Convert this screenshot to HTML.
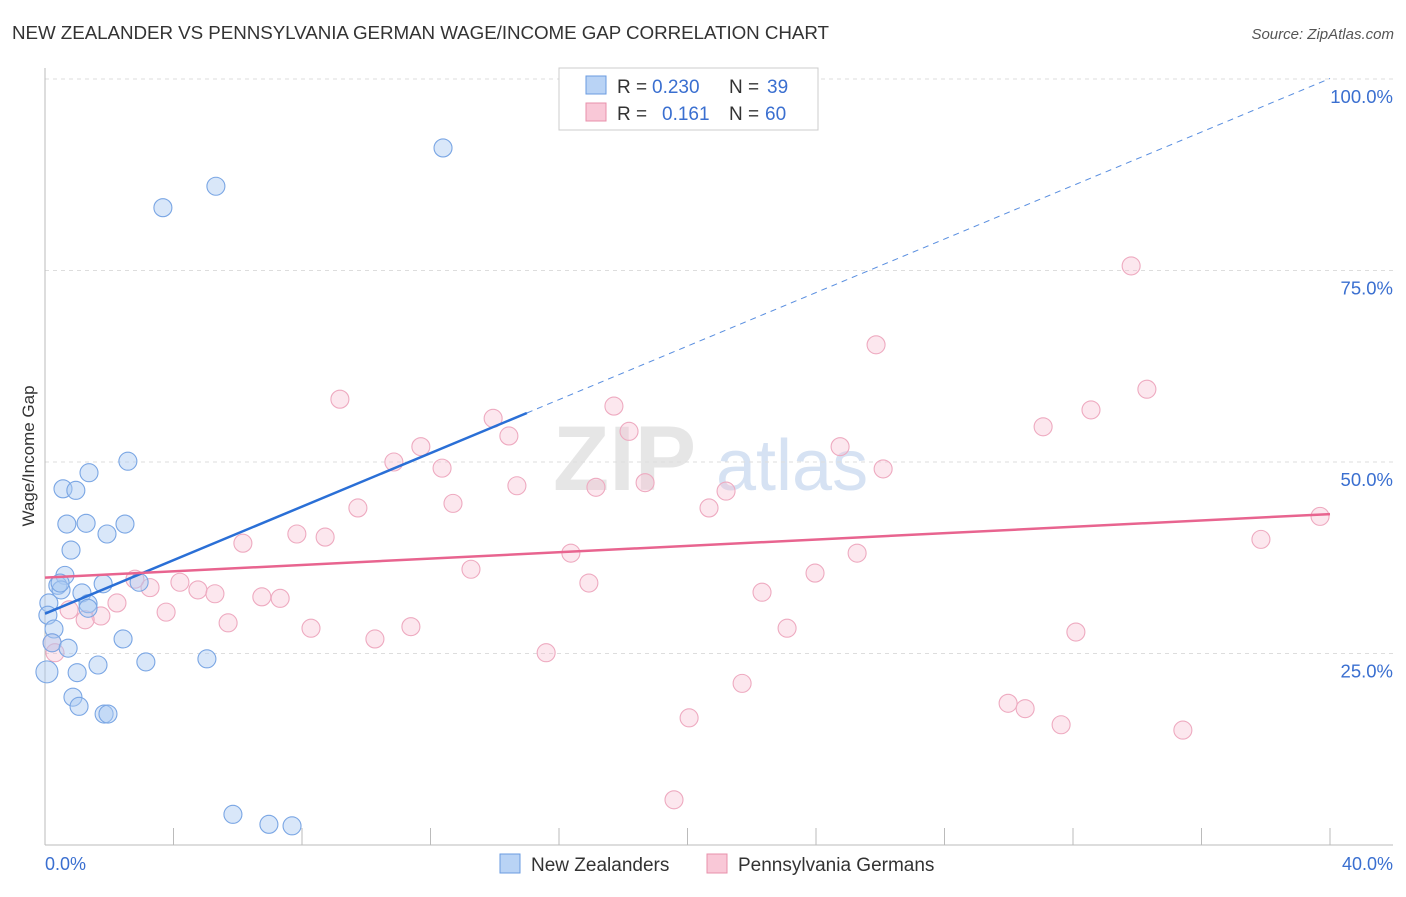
<!DOCTYPE html>
<html><head><meta charset="utf-8"><style>
body{margin:0;background:#fff;font-family:"Liberation Sans",sans-serif}
svg text{font-family:"Liberation Sans",sans-serif}
</style></head><body>
<svg id="chart" width="1406" height="892" xmlns="http://www.w3.org/2000/svg">
<text x="12" y="39" font-size="18.8" fill="#333" textLength="817">NEW ZEALANDER VS PENNSYLVANIA GERMAN WAGE/INCOME GAP CORRELATION CHART</text>
<text x="1394" y="39" font-size="15" fill="#555" font-style="italic" text-anchor="end">Source: ZipAtlas.com</text>
<text x="34" y="456" font-size="17" fill="#333" text-anchor="middle" transform="rotate(-90 34 456)">Wage/Income Gap</text>
<text x="553" y="490" font-size="92" fill="#e6e6e6" font-family="Liberation Serif" font-weight="bold">ZIP</text>
<text x="716" y="490" font-size="72" fill="#d6e2f3">atlas</text>
<g id="grid"></g><g id="axes"></g><g id="pts"></g><g id="lines"></g>
<g>
<rect x="559" y="68" width="259" height="62" fill="#fff" stroke="#ccc"/>
<rect x="586" y="76" width="20" height="18" fill="#b9d3f5" stroke="#6a9be0"/>
<rect x="586" y="103" width="20" height="18" fill="#f9c8d7" stroke="#e890ab"/>
<text x="617" y="93" font-size="19" fill="#333">R =</text>
<text x="652" y="93" font-size="19" fill="#3a6fd0">0.230</text>
<text x="729" y="93" font-size="19" fill="#333">N =</text>
<text x="767" y="93" font-size="19" fill="#3a6fd0">39</text>
<text x="617" y="120" font-size="19" fill="#333">R =</text>
<text x="662" y="120" font-size="19" fill="#3a6fd0">0.161</text>
<text x="729" y="120" font-size="19" fill="#333">N =</text>
<text x="765" y="120" font-size="19" fill="#3a6fd0">60</text>
</g>
<g>
<rect x="500" y="854" width="20" height="19" fill="#b9d3f5" stroke="#6a9be0"/>
<text x="531" y="871" font-size="19" fill="#333">New Zealanders</text>
<rect x="707" y="854" width="20" height="19" fill="#f9c8d7" stroke="#e890ab"/>
<text x="738" y="871" font-size="19" fill="#333">Pennsylvania Germans</text>
</g>
<text x="45" y="870" font-size="18" fill="#3a6fd0">0.0%</text>
<text x="1393" y="870" font-size="18" fill="#3a6fd0" text-anchor="end">40.0%</text>
</svg>
<script>
const yTicks=[25,50,75,100];
const yTickLabels=["25.0%","50.0%","75.0%","100.0%"];
const xTicks=[0,4,8,12,16,20,24,28,32,36,40];
const nzX=[12.39,5.32,3.67,2.58,1.37,0.56,0.96,0.68,1.28,2.49,1.93,0.81,0.62,0.40,0.50,1.15,1.81,2.93,1.34,0.12,0.09,0.28,0.22,0.72,2.43,3.14,5.04,1.65,1.00,0.06,0.87,1.06,1.84,1.96,5.85,6.97,7.69,0.47,1.34];
const nzY=[91.0,86.0,83.2,50.1,48.6,46.5,46.3,41.9,42.0,41.9,40.6,38.5,35.2,33.9,33.3,32.9,34.1,34.3,31.5,31.6,30.0,28.2,26.4,25.7,26.9,23.9,24.3,23.5,22.5,22.6,19.3,18.1,17.1,17.1,4.0,2.7,2.5,34.2,30.9];
const pgX=[33.81,25.87,34.30,9.18,32.56,17.71,13.95,31.07,14.44,18.18,11.70,24.75,10.86,12.36,26.09,14.69,17.15,18.68,21.20,12.70,9.74,20.67,39.69,7.84,8.72,37.85,6.16,16.37,25.28,13.26,23.97,2.80,4.20,3.27,16.93,4.76,5.29,22.32,6.75,7.32,2.24,3.77,0.75,1.74,1.25,5.70,8.28,11.39,23.10,32.09,10.27,0.22,15.60,0.31,21.70,29.98,30.51,20.05,31.63,35.42,19.58];
const pgY=[75.6,65.3,59.5,58.2,56.8,57.3,55.7,54.6,53.4,54.0,52.0,52.0,50.0,49.2,49.1,46.9,46.7,47.3,46.2,44.6,44.0,44.0,42.9,40.6,40.2,39.9,39.4,38.1,38.1,36.0,35.5,34.7,34.3,33.6,34.2,33.3,32.8,33.0,32.4,32.2,31.6,30.4,30.7,29.9,29.4,29.0,28.3,28.5,28.3,27.8,26.9,26.4,25.1,25.1,21.1,18.5,17.8,16.6,15.7,15.0,5.9];
const nzTrend=[30.2,56.4,15.0,100.1];
const pgTrend=[34.9,43.2];
const sx=v=>45+v*32.125, sy=v=>845-v*7.66;
const NS="http://www.w3.org/2000/svg";
function mk(p,t,a){const e=document.createElementNS(NS,t);for(const k in a)e.setAttribute(k,a[k]);p.appendChild(e);return e;}
const grid=document.getElementById('grid'),axes=document.getElementById('axes'),pts=document.getElementById('pts'),lines=document.getElementById('lines');
yTicks.forEach((t,i)=>{const g=mk(grid,'line',{x1:45,x2:1393,y1:sy(t),y2:sy(t),stroke:'#ddd','stroke-dasharray':'4 4'});


const l=mk(grid,'text',{x:1393,y:sy(t)+24,'font-size':18.5,fill:'#3a6fd0','text-anchor':'end'});l.textContent=yTickLabels[i];

});
const ax=mk(axes,'line',{x1:45,x2:45,y1:68,y2:845,stroke:'#bbb'});


const bx=mk(axes,'line',{x1:45,x2:1393,y1:845,y2:845,stroke:'#bbb'});


xTicks.forEach(t=>{const k=mk(axes,'line',{x1:sx(t),x2:sx(t),y1:828,y2:845,stroke:'#bbb'});

});
pgX.forEach((x,i)=>{const c=mk(pts,'circle',{cx:sx(x),cy:sy(pgY[i]),r:9,fill:'rgba(246,185,206,0.35)',stroke:'#eeaac0','stroke-width':1.1});

});
nzX.forEach((x,i)=>{const c=mk(pts,'circle',{cx:sx(x),cy:sy(nzY[i]),r:i==29?11:9,fill:'rgba(170,202,242,0.45)',stroke:'#7aa6e4','stroke-width':1.1});

});
const slope=(nzTrend[1]-nzTrend[0])/nzTrend[2];
const l1=mk(lines,'line',{x1:sx(0),y1:sy(nzTrend[0]),x2:sx(nzTrend[2]),y2:sy(nzTrend[1]),stroke:'#2a6fd6','stroke-width':2.5});


const l2=mk(lines,'line',{x1:sx(nzTrend[2]),y1:sy(nzTrend[1]),x2:sx(40),y2:sy(nzTrend[0]+slope*40),stroke:'#5a8fe0','stroke-width':1,'stroke-dasharray':'6 5'});


const l3=mk(lines,'line',{x1:sx(0),y1:sy(pgTrend[0]),x2:sx(40),y2:sy(pgTrend[1]),stroke:'#e8648f','stroke-width':2.5});


</script>
</body></html>
